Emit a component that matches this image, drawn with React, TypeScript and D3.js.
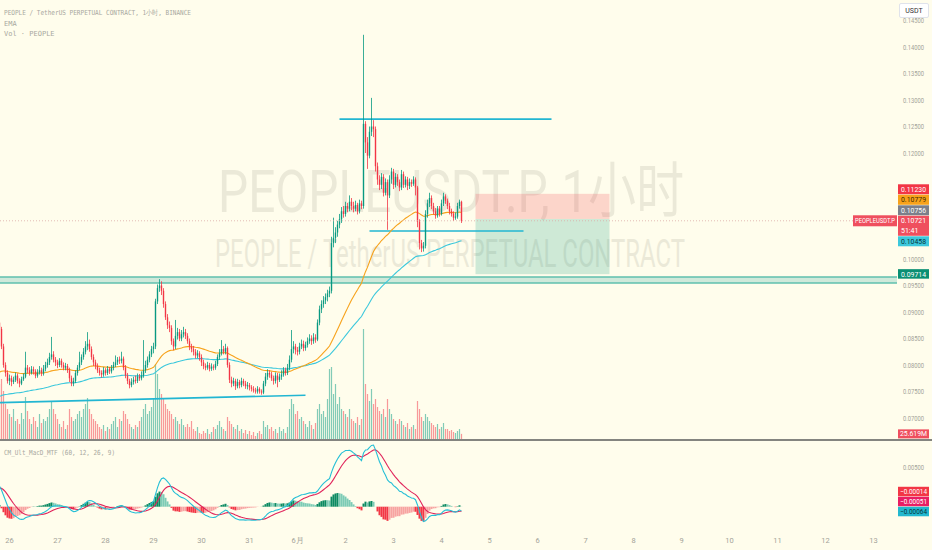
import React from "react";
import * as d3 from "d3";

// PEOPLEUSDT.P hourly candles (open = previous close)
const firstOpen = 0.088;
const closes = [
  0.0868, 0.0835, 0.08, 0.0785, 0.077, 0.0775, 0.0768, 0.0772, 0.078, 0.077,
  0.0765, 0.0773, 0.0778, 0.0795, 0.079, 0.0785, 0.0792, 0.0788, 0.078, 0.0786,
  0.079, 0.0784, 0.0793, 0.08, 0.0805, 0.0815, 0.082, 0.081, 0.0805, 0.08,
  0.0808, 0.08, 0.0795, 0.0798, 0.079, 0.0775, 0.0765, 0.077, 0.0785, 0.0795,
  0.0805, 0.0815, 0.0825, 0.0835, 0.084, 0.083, 0.0815, 0.0805, 0.0798, 0.079,
  0.0785, 0.0782, 0.079, 0.0785, 0.0792, 0.0788, 0.0795, 0.08, 0.0805, 0.081,
  0.0808, 0.0812, 0.0795, 0.078, 0.077, 0.0762, 0.0768, 0.0772, 0.077, 0.0778,
  0.0775, 0.078, 0.079, 0.08, 0.081, 0.082, 0.083, 0.0835, 0.092, 0.0945,
  0.095, 0.094, 0.0915, 0.089, 0.0875, 0.087, 0.0845, 0.0835, 0.0855, 0.0862,
  0.085, 0.0858, 0.0862, 0.0855, 0.0845, 0.0835, 0.083, 0.0825, 0.0818, 0.0822,
  0.0815, 0.0805, 0.0798, 0.0795, 0.08, 0.0793, 0.0797, 0.0795, 0.0802, 0.0815,
  0.0822, 0.083, 0.0825, 0.0832, 0.08, 0.0772, 0.0765, 0.077, 0.076, 0.0768,
  0.0762, 0.077, 0.0765, 0.076, 0.0762, 0.0758, 0.0755, 0.0752, 0.075, 0.0755,
  0.075, 0.0748, 0.0765, 0.0778, 0.0785, 0.0782, 0.0775, 0.077, 0.078, 0.0772,
  0.0778, 0.0782, 0.079, 0.0785, 0.0795, 0.081, 0.083, 0.0835, 0.0828, 0.0825,
  0.0835, 0.084, 0.0832, 0.0838, 0.0845, 0.085, 0.0845, 0.0852, 0.0848, 0.088,
  0.0905, 0.0915, 0.0922, 0.0928, 0.0935, 0.094, 0.103, 0.104, 0.105, 0.1065,
  0.1075, 0.109, 0.1085, 0.11, 0.1095, 0.1108, 0.11, 0.1095, 0.1102, 0.109,
  0.1105, 0.11, 0.1255, 0.122, 0.1195, 0.124, 0.125, 0.1245, 0.1175, 0.115,
  0.114, 0.1155, 0.1125, 0.1145, 0.112, 0.115, 0.1165, 0.114, 0.1155, 0.1145,
  0.1135, 0.116, 0.114, 0.115, 0.1138, 0.1145, 0.1142, 0.115, 0.1135, 0.107,
  0.103, 0.102, 0.1025, 0.1085, 0.1105, 0.1115, 0.11, 0.109, 0.1082, 0.1095,
  0.1085, 0.1105, 0.1118, 0.111, 0.11, 0.109, 0.1085, 0.1078, 0.108, 0.11,
  0.1108, 0.10721,
];
const highs = [
  0.0885, 0.0872, 0.084, 0.0805, 0.079, 0.0782, 0.078, 0.0778, 0.0786, 0.0784,
  0.0775, 0.0778, 0.0784, 0.0825, 0.08, 0.0796, 0.0798, 0.0797, 0.0792, 0.0792,
  0.0798, 0.0795, 0.08, 0.0806, 0.0812, 0.0823, 0.0853, 0.0826, 0.0815, 0.081,
  0.0813, 0.0812, 0.0805, 0.0804, 0.0802, 0.0795, 0.078, 0.0776, 0.079, 0.08,
  0.0825, 0.082, 0.0832, 0.0845, 0.0862, 0.0848, 0.0835, 0.082, 0.081, 0.0803,
  0.0795, 0.079, 0.0796, 0.0794, 0.0798, 0.0796, 0.08, 0.0806, 0.0818, 0.0815,
  0.0816, 0.0825, 0.0816, 0.08, 0.0785, 0.0774, 0.0775, 0.0778, 0.078, 0.0784,
  0.0783, 0.0788, 0.0847, 0.0808, 0.0816, 0.0826, 0.0836, 0.0842, 0.0925, 0.0952,
  0.0962, 0.0958, 0.0945, 0.092, 0.0896, 0.0882, 0.0875, 0.085, 0.0885, 0.087,
  0.0868, 0.0866, 0.0872, 0.0868, 0.086, 0.085, 0.084, 0.0836, 0.083, 0.0828,
  0.0826, 0.082, 0.081, 0.0803, 0.0806, 0.0804, 0.0803, 0.0801, 0.0808, 0.082,
  0.083, 0.0847, 0.0836, 0.084, 0.0835, 0.0805, 0.0778, 0.0776, 0.0774, 0.0774,
  0.0772, 0.0776, 0.0774, 0.077, 0.0768, 0.0766, 0.0762, 0.076, 0.0757, 0.076,
  0.0758, 0.0754, 0.077, 0.0785, 0.0792, 0.079, 0.0787, 0.078, 0.0786, 0.0785,
  0.0784, 0.079, 0.0796, 0.0795, 0.0802, 0.0818, 0.0866, 0.0845, 0.084, 0.0834,
  0.0842, 0.0848, 0.0846, 0.0844, 0.0852, 0.0858, 0.0856, 0.086, 0.0858, 0.0886,
  0.0912, 0.0922, 0.093, 0.0935, 0.0942, 0.0948, 0.1042, 0.1078, 0.106, 0.1072,
  0.1085, 0.1098, 0.11, 0.1108, 0.1106, 0.112, 0.1115, 0.1108, 0.111, 0.1106,
  0.1112, 0.111, 0.1423, 0.126, 0.123, 0.125, 0.1304, 0.1262, 0.125, 0.1182,
  0.1158, 0.1162, 0.116, 0.1152, 0.115, 0.1158, 0.1172, 0.117, 0.1162, 0.116,
  0.115, 0.1168, 0.1165, 0.1156, 0.1155, 0.1152, 0.115, 0.1156, 0.1154, 0.1138,
  0.1075, 0.1036, 0.1032, 0.1092, 0.1112, 0.1125, 0.112, 0.1106, 0.1096, 0.11,
  0.11, 0.1112, 0.1125, 0.1122, 0.1114, 0.1106, 0.1095, 0.109, 0.1088, 0.1106,
  0.1112, 0.111,
];
const lows = [
  0.0862, 0.083, 0.0795, 0.0778, 0.0765, 0.0762, 0.076, 0.0764, 0.0768, 0.0765,
  0.0758, 0.0762, 0.077, 0.0775, 0.0784, 0.078, 0.0782, 0.0782, 0.0775, 0.0776,
  0.0782, 0.0779, 0.078, 0.0788, 0.0795, 0.08, 0.081, 0.0805, 0.0798, 0.0794,
  0.0796, 0.0795, 0.079, 0.079, 0.0785, 0.0768, 0.076, 0.076, 0.0766, 0.078,
  0.079, 0.08, 0.081, 0.082, 0.0828, 0.0825, 0.081, 0.0798, 0.0792, 0.0785,
  0.078, 0.0776, 0.0778, 0.078, 0.0781, 0.0783, 0.0784, 0.079, 0.0796, 0.08,
  0.0802, 0.0803, 0.079, 0.0775, 0.0764, 0.0756, 0.0758, 0.0763, 0.0765, 0.0766,
  0.077, 0.0771, 0.0776, 0.0785, 0.0795, 0.0805, 0.0815, 0.0822, 0.083, 0.0915,
  0.0938, 0.0932, 0.0908, 0.0885, 0.0868, 0.0862, 0.0838, 0.0828, 0.083, 0.0848,
  0.0845, 0.0845, 0.0852, 0.0849, 0.084, 0.0828, 0.0824, 0.0818, 0.0812, 0.0813,
  0.0808, 0.0798, 0.0792, 0.079, 0.0791, 0.0788, 0.0789, 0.079, 0.0791, 0.0798,
  0.081, 0.0818, 0.082, 0.082, 0.0795, 0.0766, 0.0758, 0.076, 0.0753, 0.0756,
  0.0756, 0.0758, 0.076, 0.0755, 0.0754, 0.0752, 0.075, 0.0748, 0.0746, 0.0746,
  0.0746, 0.0744, 0.0745, 0.076, 0.0772, 0.0776, 0.077, 0.0763, 0.0765, 0.0758,
  0.0768, 0.0772, 0.0778, 0.078, 0.0781, 0.079, 0.0805, 0.0822, 0.082, 0.0818,
  0.082, 0.083, 0.0826, 0.0827, 0.0833, 0.084, 0.0838, 0.084, 0.0842, 0.0845,
  0.0875, 0.0898, 0.0908, 0.0915, 0.092, 0.0928, 0.0935, 0.1022, 0.103, 0.1042,
  0.1058, 0.1068, 0.1078, 0.108, 0.1088, 0.109, 0.1092, 0.1088, 0.109, 0.1084,
  0.1086, 0.1094, 0.1095, 0.12, 0.117, 0.119, 0.1232, 0.123, 0.1165, 0.114,
  0.113, 0.1132, 0.1118, 0.112, 0.1055, 0.1115, 0.1142, 0.1132, 0.1135, 0.1138,
  0.1128, 0.113, 0.1134, 0.1135, 0.113, 0.1132, 0.1136, 0.1138, 0.112, 0.106,
  0.1018, 0.1013, 0.1014, 0.102, 0.1078, 0.1098, 0.1094, 0.1084, 0.1076, 0.1078,
  0.108, 0.1082, 0.11, 0.1104, 0.1094, 0.1084, 0.108, 0.1072, 0.1074, 0.1076,
  0.1095, 0.1068,
];
// volume in millions
const volumes = [
  275, 300, 240, 175, 150, 125, 110, 150, 90, 100,
  75, 130, 100, 210, 140, 100, 75, 110, 90, 60,
  125, 80, 100, 90, 110, 150, 190, 150, 125, 100,
  75, 60, 90, 50, 70, 150, 110, 90, 100, 125,
  140, 110, 150, 175, 205, 150, 125, 100, 90, 75,
  60, 50, 70, 40, 60, 50, 75, 90, 110, 60,
  100, 90, 140, 125, 100, 75, 60, 50, 70, 60,
  90, 110, 150, 175, 125, 140, 160, 200, 375, 325,
  250, 225, 200, 175, 150, 140, 125, 100, 110, 90,
  75, 100, 70, 60, 75, 60, 90, 50, 40, 60,
  30, 25, 40, 30, 50, 25, 35, 60, 50, 70,
  90, 60, 50, 40, 110, 90, 75, 60, 50, 70,
  40, 50, 30, 45, 25, 40, 20, 35, 15, 30,
  40, 25, 90, 60, 70, 50, 60, 40, 50, 30,
  60, 40, 50, 30, 60, 150, 200, 175, 125, 140,
  100, 110, 90, 75, 60, 90, 70, 50, 80, 150,
  175, 125, 140, 110, 200, 350, 360, 225, 275, 175,
  210, 150, 140, 125, 110, 150, 100, 90, 80, 110,
  70, 100, 550, 275, 225, 190, 250, 175, 200, 160,
  140, 125, 150, 110, 200, 150, 125, 100, 90, 75,
  100, 90, 70, 60, 80, 50, 60, 70, 50, 190,
  150, 110, 90, 125, 110, 90, 80, 70, 60, 75,
  50, 60, 80, 50, 50, 40, 45, 35, 30, 40,
  50, 25.619,
];

const timeTickLabels = ["26", "27", "28", "29", "30", "31", "6月", "2", "3", "4", "5", "6", "7", "8", "9", "10", "11", "12", "13"];
const priceTicks = [0.07, 0.075, 0.08, 0.085, 0.09, 0.095, 0.1, 0.105, 0.11, 0.115, 0.12, 0.125, 0.13, 0.135, 0.14, 0.145];

// indicator starting values read at the left edge
const ema50Start = 0.0783;
const ema100Start = 0.0738;
const ema12Start = 0.087;
const ema26Start = 0.0842;
const signalStart = 0.0023;

// drawings
const stopPrice = 0.1123;
const entryPrice = 0.10756;
const targetPrice = 0.09714;
const topLevel = 0.1264;
const midLevel = 0.10528;
const bandTop = 0.0966;
const bandBottom = 0.09547;
const trendStart = 0.0729;
const trendEnd = 0.0743;
const lastPrice = 0.10721;
const lastEma50 = 0.10779;
const lastEma100 = 0.10458;
const lastVolume = "25.619M";
const countdown = "51:41";
const macdLast = { hist: -0.00014, signal: -0.00051, macd: -0.00064 };

const UP = "#089981";
const DOWN = "#f23645";
const BG = "#fffdec";

function ema(vals: number[], period: number, start: number) {
  const k = 2 / (period + 1);
  let e = start;
  return vals.map((v) => (e = e + (v - e) * k));
}

type Tag = { value: number; text: string; sub?: string; fill: string; color: string; h: number };

function stack(tags: Tag[], anchorIdx: number, pos: (v: number) => number) {
  // push labels apart away from the anchor label, like the price scale does
  const out = tags.map((t) => ({ ...t, top: pos(t.value) - 5 }));
  const order = out.map((t, i) => i).sort((a, b) => out[a].top - out[b].top);
  const ai = order.indexOf(anchorIdx);
  for (let k = ai - 1; k >= 0; k--) {
    const cur = out[order[k]], nxt = out[order[k + 1]];
    cur.top = Math.min(cur.top, nxt.top - cur.h);
  }
  for (let k = ai + 1; k < order.length; k++) {
    const cur = out[order[k]], prv = out[order[k - 1]];
    cur.top = Math.max(cur.top, prv.top + prv.h);
  }
  return out;
}

export default function App() {
  const plotR = 897;
  const t0 = Date.UTC(2023, 4, 25, 19);
  const hour = 3600 * 1000;
  const times = closes.map((_, i) => new Date(t0 + i * hour));
  const x = d3
    .scaleUtc()
    .domain([new Date(Date.UTC(2023, 4, 26)), new Date(Date.UTC(2023, 5, 13))])
    .range([9.5, 873.5]);
  const y = d3.scaleLinear().domain([0.07, 0.14]).range([418, 47]);
  const yVol = d3.scaleLinear().domain([0, 550]).range([439, 329]);
  const yMacd = d3.scaleLinear().domain([0, 0.005]).range([506.7, 467]);

  const opens = closes.map((c, i) => (i === 0 ? firstOpen : closes[i - 1]));
  const e50 = ema(closes, 50, ema50Start);
  const e100 = ema(closes, 100, ema100Start);
  const e12 = ema(closes, 12, ema12Start);
  const e26 = ema(closes, 26, ema26Start);
  const macd = e12.map((v, i) => v - e26[i]);
  const signal = ema(macd, 9, signalStart);
  const hist = macd.map((v, i) => v - signal[i]);

  const line = (vals: number[], sy: (v: number) => number) =>
    d3.line<number>().x((_, i) => x(times[i])).y((v) => sy(v))(vals) || "";

  const days = d3.utcDay.range(new Date(Date.UTC(2023, 4, 26)), new Date(Date.UTC(2023, 5, 14)));
  const at = (d: number, h: number) => new Date(Date.UTC(2023, 5, d, h));

  const priceTags = stack(
    [
      { value: stopPrice, text: "0.11230", fill: "#f23645", color: "#fff", h: 10.5 },
      { value: lastEma50, text: "0.10779", fill: "#f7a21b", color: "#3b2a00", h: 10.5 },
      { value: entryPrice, text: "0.10756", fill: "#7b7f8a", color: "#fff", h: 10.5 },
      { value: lastPrice, text: "0.10721", sub: countdown, fill: "#ef4f5e", color: "#fff", h: 20.5 },
      { value: lastEma100, text: "0.10458", fill: "#3cc8dc", color: "#06343a", h: 10.5 },
      { value: targetPrice, text: "0.09714", fill: "#0a8f73", color: "#fff", h: 10 },
    ],
    3,
    y
  );
  const macdTags = stack(
    [
      { value: macdLast.hist, text: "\u22120.00014", fill: "#f23645", color: "#fff", h: 10 },
      { value: macdLast.signal, text: "\u22120.00051", fill: "#e91e63", color: "#fff", h: 10 },
      { value: macdLast.macd, text: "\u22120.00064", fill: "#22b8cf", color: "#06343a", h: 10 },
    ],
    2,
    yMacd
  );
  // tick labels hidden behind a tag are not drawn
  const freeTicks = priceTicks.filter(
    (p) => !priceTags.some((t) => y(p) > t.top - 5 && y(p) < t.top + t.h + 4)
  );

  const axisFont = "Roboto, 'Liberation Sans', sans-serif";
  const mono = "'DejaVu Sans Mono', monospace";

  return (
    <svg width={932} height={550} style={{ position: "absolute", left: 0, top: 0, background: BG }}>
      <defs>
        <clipPath id="main">
          <rect x={0} y={0} width={plotR} height={439} />
        </clipPath>
        <clipPath id="sub">
          <rect x={0} y={441} width={plotR} height={86} />
        </clipPath>
        <clipPath id="axis">
          <rect x={897} y={18} width={35} height={420} />
        </clipPath>
      </defs>
      <rect width={932} height={550} fill={BG} />

      {/* watermark */}
      <g fill="#8d8b78" opacity={0.17} fontFamily="Roboto, 'Noto Sans CJK SC', sans-serif" textAnchor="middle">
        <text x={451} y={212} fontSize={60} textLength={466} lengthAdjust="spacingAndGlyphs">
          PEOPLEUSDT.P, 1小时
        </text>
        <text x={450} y={267} fontSize={39} textLength={470} lengthAdjust="spacingAndGlyphs">
          PEOPLE / TetherUS PERPETUAL CONTRACT
        </text>
      </g>

      <g clipPath="url(#main)">
        {/* long position tool */}
        <rect x={x(at(4, 17))} y={y(stopPrice)} width={x(at(7, 12)) - x(at(4, 17))} height={y(entryPrice) - y(stopPrice)} fill="rgba(242,54,69,0.2)" />
        <rect x={x(at(4, 17))} y={y(entryPrice)} width={x(at(7, 12)) - x(at(4, 17))} height={y(targetPrice) - y(entryPrice)} fill="rgba(8,153,129,0.2)" />

        {/* support band */}
        <rect x={0} y={y(bandTop)} width={plotR} height={y(bandBottom) - y(bandTop)} fill="rgba(38,166,154,0.22)" />
        <line x1={0} x2={plotR} y1={y(bandTop)} y2={y(bandTop)} stroke="#5fbfae" strokeWidth={1.3} />
        <line x1={0} x2={plotR} y1={y(bandBottom)} y2={y(bandBottom)} stroke="#5fbfae" strokeWidth={1.3} />

        {/* volume */}
        {volumes.map((v, i) => (
          <rect
            key={"v" + i}
            x={x(times[i]) - 0.6}
            y={yVol(v)}
            width={1.2}
            height={yVol(0) - yVol(v)}
            fill={closes[i] >= opens[i] ? "rgba(8,153,129,0.5)" : "rgba(242,54,69,0.5)"}
          />
        ))}

        {/* drawn lines */}
        <line x1={x(at(1, 21))} x2={x(at(6, 7))} y1={y(topLevel)} y2={y(topLevel)} stroke="#22b6d2" strokeWidth={1.6} />
        <line x1={x(at(2, 12))} x2={x(at(5, 17))} y1={y(midLevel)} y2={y(midLevel)} stroke="#22b6d2" strokeWidth={1.6} />
        <line x1={x(new Date(t0))} x2={x(at(1, 4))} y1={y(trendStart)} y2={y(trendEnd)} stroke="#22b6d2" strokeWidth={1.6} />

        {/* EMAs */}
        <path d={line(e100, y)} fill="none" stroke="#3cc8dc" strokeWidth={1.1} />
        <path d={line(e50, y)} fill="none" stroke="#f7a21b" strokeWidth={1.1} />

        {/* candles */}
        {closes.map((c, i) => {
          const o = opens[i];
          const col = c >= o ? UP : DOWN;
          const cx = x(times[i]);
          const top = y(Math.max(o, c));
          const bot = y(Math.min(o, c));
          return (
            <g key={"c" + i}>
              <line x1={cx} x2={cx} y1={y(highs[i])} y2={y(lows[i])} stroke={col} strokeWidth={0.8} />
              <rect x={cx - 0.7} y={top} width={1.4} height={Math.max(0.8, bot - top)} fill={col} />
            </g>
          );
        })}

        {/* last price line */}
        <line x1={0} x2={plotR} y1={y(lastPrice)} y2={y(lastPrice)} stroke="#d9a9a6" strokeWidth={0.8} strokeDasharray="1 2" />
      </g>

      {/* legends */}
      <g fontFamily={mono} fontSize={7} fill="#a8a8a0">
        <text x={4} y={15} textLength={187} lengthAdjust="spacingAndGlyphs">
          PEOPLE / TetherUS PERPETUAL CONTRACT, 1小时, BINANCE
        </text>
        <text x={4} y={25.5}>EMA</text>
        <text x={4} y={36}>Vol · PEOPLE</text>
        <text x={4} y={455} textLength={111} lengthAdjust="spacingAndGlyphs">
          CM_Ult_MacD_MTF (60, 12, 26, 9)
        </text>
      </g>

      {/* price axis */}
      <g fontFamily={axisFont} fontSize={7.5} fill="#a3a399" textAnchor="middle" clipPath="url(#axis)">
        {freeTicks.map((p) => (
          <text key={p} x={913.5} y={y(p) + 2.6} textLength={21} lengthAdjust="spacingAndGlyphs">
            {p.toFixed(5)}
          </text>
        ))}
      </g>
      <g fontFamily={axisFont} fontSize={7.5} fill="#a3a399" textAnchor="middle">
        {[0.005].map((p) => (
          <text key={"m" + p} x={913.5} y={yMacd(p) + 2.6} textLength={21} lengthAdjust="spacingAndGlyphs">
            {p.toFixed(5)}
          </text>
        ))}
      </g>
      <rect x={899.5} y={3.5} width={29} height={14} rx={1.5} fill="#fff" stroke="#e0e3eb" />
      <text x={914} y={13} fontFamily={axisFont} fontSize={7} fill="#333" textAnchor="middle">
        USDT
      </text>

      {/* price tags */}
      <g fontFamily={axisFont} fontSize={7.5} textAnchor="middle">
        {priceTags.map((t) => (
          <g key={t.text}>
            <rect x={898} y={t.top} width={31} height={t.h - 0.5} fill={t.fill} />
            <text x={913.5} y={t.top + 7.6} fill={t.color} textLength={25} lengthAdjust="spacingAndGlyphs">
              {t.text}
            </text>
            {t.sub && (
              <text x={901} y={t.top + 17} fill={t.color} fontSize={7} textAnchor="start">
                {t.sub}
              </text>
            )}
          </g>
        ))}
        <rect x={853} y={y(lastPrice) - 5.5} width={44} height={11} fill="#ef4f5e" />
        <text x={875} y={y(lastPrice) + 2.6} fill="#fff" fontSize={6.8} textLength={40} lengthAdjust="spacingAndGlyphs">
          PEOPLEUSDT.P
        </text>
        <rect x={898} y={yVol(25.619) - 4.5} width={31} height={9} fill="#ef4f5e" />
        <text x={913.5} y={yVol(25.619) + 2.5} fill="#fff" textLength={27} lengthAdjust="spacingAndGlyphs">
          {lastVolume}
        </text>
      </g>

      {/* pane separator */}
      <line x1={0} x2={932} y1={440} y2={440} stroke="#5b5b5b" strokeWidth={1.6} />

      {/* MACD pane */}
      <g clipPath="url(#sub)">
        {hist.map((h, i) => {
          const prev = i === 0 ? h : hist[i - 1];
          const col = h >= 0 ? (h >= prev ? "#0b8a62" : "#7ccbb5") : h < prev ? "#f23645" : "#f7a3a1";
          const y0 = yMacd(0);
          const y1 = yMacd(h);
          return <rect key={"h" + i} x={x(times[i]) - 1} y={Math.min(y0, y1)} width={2} height={Math.abs(y1 - y0)} fill={col} />;
        })}
        <path d={line(signal, yMacd)} fill="none" stroke="#e0235a" strokeWidth={1.1} />
        <path d={line(macd, yMacd)} fill="none" stroke="#26bfd6" strokeWidth={1.1} />
      </g>
      <g fontFamily={axisFont} fontSize={7.5} textAnchor="middle">
        {macdTags.map((t) => (
          <g key={t.text}>
            <rect x={898} y={t.top} width={31} height={t.h - 0.5} fill={t.fill} />
            <text x={913.5} y={t.top + 7.3} fill={t.color} textLength={27} lengthAdjust="spacingAndGlyphs">
              {t.text}
            </text>
          </g>
        ))}
      </g>

      {/* time axis */}
      <g fontFamily={axisFont} fontSize={7.5} fill="#a3a399" textAnchor="middle">
        {days.map((d, i) => (
          <text key={i} x={x(d)} y={543}>
            {timeTickLabels[i]}
          </text>
        ))}
      </g>
    </svg>
  );
}
